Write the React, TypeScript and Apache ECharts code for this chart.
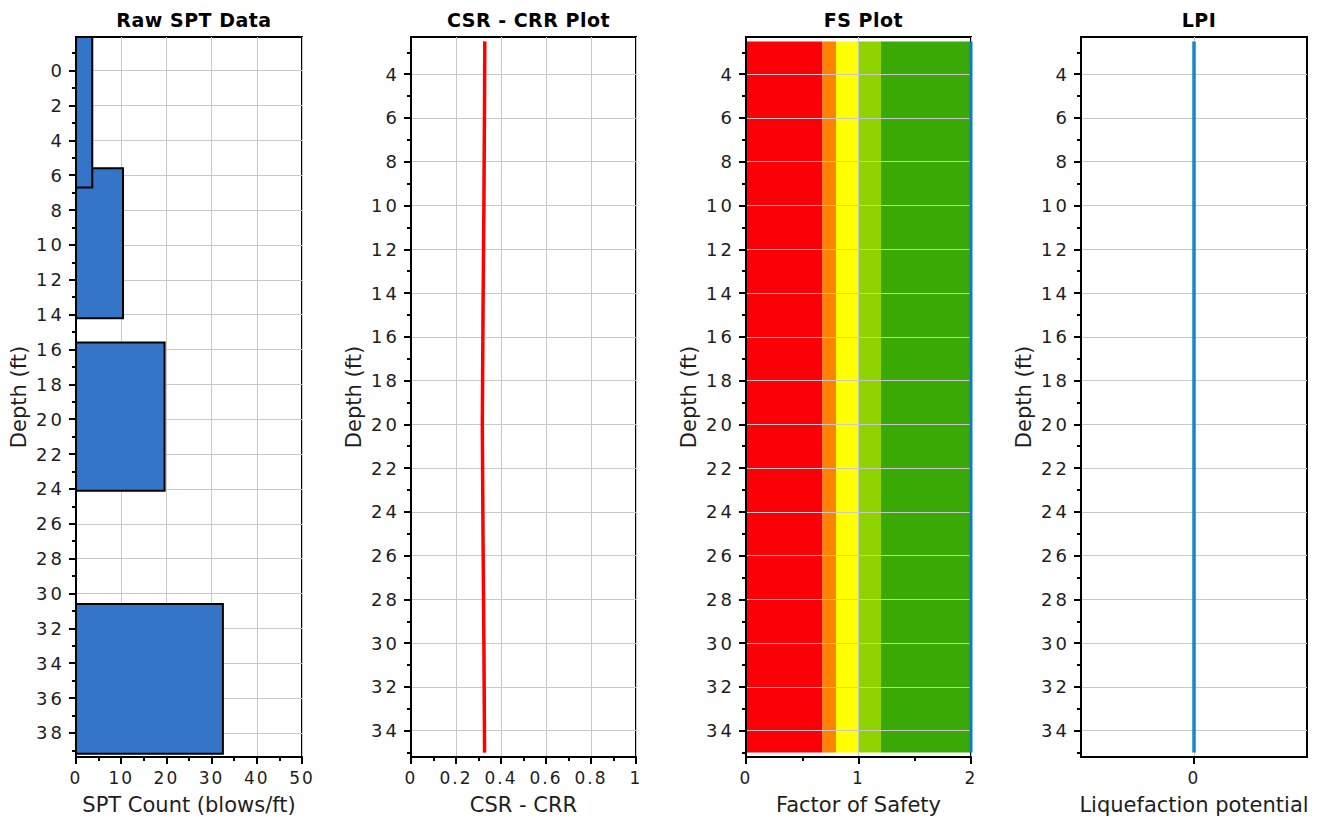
import React, { useEffect, useRef } from "react";
import * as echarts from "echarts";

const FONT = "DejaVu Sans";

const panelTitles = ["Raw SPT Data", "CSR - CRR Plot", "FS Plot", "LPI"];
const xAxisNames = ["SPT Count (blows/ft)", "CSR - CRR", "Factor of Safety", "Liquefaction potential"];
const yAxisName = "Depth (ft)";

// Raw SPT layers
const sptTopDepth = [-1.93, 5.6, 15.6, 30.6];
const sptBottomDepth = [6.7, 14.2, 24.1, 39.2];
const sptCount = [3.6, 10.4, 19.6, 32.5];

// Profiles vs depth
const depths = [2.5, 5, 10, 15, 20, 25, 30, 35];
const csrCrr = [0.328, 0.327, 0.324, 0.32, 0.317, 0.32, 0.324, 0.327];
const factorOfSafety = [2, 2, 2, 2, 2, 2, 2, 2];
const lpi = [0, 0, 0, 0, 0, 0, 0, 0];

// FS background bands
const fsBandFrom = [0, 0.68, 0.8, 1.0, 1.2];
const fsBandTo = [0.68, 0.8, 1.0, 1.2, 2.0];
const fsBandColors = ["#fb0007", "#ff8200", "#ffff00", "#8fd400", "#3aa805"];
const fsBandTop = 2.5;
const fsBandBottom = 35;

// Tick labels
const depthTicksSpt = [0, 2, 4, 6, 8, 10, 12, 14, 16, 18, 20, 22, 24, 26, 28, 30, 32, 34, 36, 38];
const depthTicks = [4, 6, 8, 10, 12, 14, 16, 18, 20, 22, 24, 26, 28, 30, 32, 34];
const lpiTicks = [0];

const grids = [
  { left: 76, top: 37, width: 226, height: 720 },
  { left: 411, top: 37, width: 225, height: 720 },
  { left: 746, top: 37, width: 225, height: 720 },
  { left: 1081, top: 37, width: 226, height: 720 },
];

const tickColor = "#000";
const labelColor = "#1e1e1e";
const gridColor = "#c8c8c8";
const Y_TICK_FONT = 18;
const X_TICK_FONT = 17;

function makeY(i: number, min: number, max: number, ticks: number[]) {
  return {
    type: "value",
    gridIndex: i,
    inverse: true,
    min,
    max,
    minInterval: 2,
    maxInterval: 2,
    name: yAxisName,
    nameLocation: "middle",
    nameGap: 47,
    nameTextStyle: { fontSize: 21, color: labelColor, fontFamily: FONT },
    axisLine: { show: true, onZero: false, lineStyle: { color: tickColor, width: 2 } },
    axisTick: { show: true, length: 7, customValues: ticks, lineStyle: { color: tickColor, width: 2 } },
    minorTick: { show: true, splitNumber: 2, length: 4, lineStyle: { color: tickColor, width: 2 } },
    axisLabel: { fontSize: Y_TICK_FONT, color: labelColor, margin: 11, fontFamily: FONT, customValues: ticks },
    splitLine: { show: true, lineStyle: { color: gridColor, width: 1 } },
  };
}

function makeX(i: number, min: number, max: number, interval: number, extra: any = {}) {
  return {
    type: "value",
    gridIndex: i,
    min,
    max,
    interval,
    position: "bottom",
    name: xAxisNames[i],
    nameLocation: "middle",
    nameGap: 37,
    nameTextStyle: { fontSize: 21, color: labelColor, fontFamily: FONT },
    axisLine: { show: true, onZero: false, lineStyle: { color: tickColor, width: 2 } },
    axisTick: { show: true, length: 7, lineStyle: { color: tickColor, width: 2 }, ...(extra.axisTick || {}) },
    minorTick: { show: extra.noMinor ? false : true, splitNumber: 2, length: 4, lineStyle: { color: tickColor, width: 2 } },
    axisLabel: { fontSize: X_TICK_FONT, color: labelColor, margin: 12, fontFamily: FONT, ...(extra.axisLabel || {}) },
    splitLine: { show: true, lineStyle: { color: gridColor, width: 1 } },
  };
}

export default function App() {
  const ref = useRef<HTMLDivElement>(null);

  useEffect(() => {
    if (!ref.current) return;
    const chart = echarts.init(ref.current, null, { renderer: "svg" });

    const option: any = {
      animation: false,
      textStyle: { fontFamily: FONT },
      title: panelTitles.map((t, i) => ({
        text: t,
        left: grids[i].left + grids[i].width / 2,
        top: 5,
        textAlign: "center",
        textStyle: { fontSize: 19, fontWeight: "bold", color: "#000", fontFamily: FONT },
      })),
      grid: grids.map((g) => ({
        ...g,
        show: true,
        borderColor: "#000",
        borderWidth: 2,
        backgroundColor: "transparent",
        containLabel: false,
      })),
      xAxis: [
        makeX(0, 0, 50, 10),
        makeX(1, 0, 1, 0.2),
        makeX(2, 0, 2, 1),
        makeX(3, -1, 1, 1, {
          noMinor: true,
          axisTick: { customValues: lpiTicks },
          axisLabel: { customValues: lpiTicks },
        }),
      ],
      yAxis: [
        makeY(0, -1.93, 39.38, depthTicksSpt),
        makeY(1, 2.3, 35.2, depthTicks),
        makeY(2, 2.3, 35.2, depthTicks),
        makeY(3, 2.3, 35.2, depthTicks),
      ],
      series: [
        {
          type: "custom",
          name: "SPT",
          xAxisIndex: 0,
          yAxisIndex: 0,
          clip: true,
          encode: { x: [0, 1], y: [2, 3] },
          data: sptCount.map((c, i) => [0, c, sptTopDepth[i], sptBottomDepth[i]]),
          renderItem: (params: any, api: any) => {
            const p0 = api.coord([api.value(0), api.value(2)]);
            const p1 = api.coord([api.value(1), api.value(3)]);
            return {
              type: "rect",
              z2: 10 - params.dataIndex,
              shape: { x: p0[0], y: p0[1], width: p1[0] - p0[0], height: p1[1] - p0[1] },
              style: { fill: "#3575c8", stroke: "#000", lineWidth: 2 },
            };
          },
        },
        {
          type: "line",
          name: "CSR - CRR",
          xAxisIndex: 1,
          yAxisIndex: 1,
          showSymbol: false,
          data: depths.map((d, i) => [csrCrr[i], d]),
          lineStyle: { color: "#ff0000", width: 3.5 },
          itemStyle: { color: "#ff0000" },
        },
        {
          type: "custom",
          name: "FS zones",
          xAxisIndex: 2,
          yAxisIndex: 2,
          z: -1,
          clip: true,
          encode: { x: [0, 1], y: [2, 3] },
          data: fsBandFrom.map((f, i) => [f, fsBandTo[i], fsBandTop, fsBandBottom, i]),
          renderItem: (params: any, api: any) => {
            const p0 = api.coord([api.value(0), api.value(2)]);
            const p1 = api.coord([api.value(1), api.value(3)]);
            return {
              type: "rect",
              shape: { x: p0[0], y: p0[1], width: p1[0] - p0[0], height: p1[1] - p0[1] },
              style: { fill: fsBandColors[api.value(4)] },
            };
          },
        },
        {
          type: "line",
          name: "FS",
          xAxisIndex: 2,
          yAxisIndex: 2,
          showSymbol: false,
          clip: false,
          data: depths.map((d, i) => [factorOfSafety[i], d]),
          lineStyle: { color: "#0a80c0", width: 3 },
          itemStyle: { color: "#0a80c0" },
        },
        {
          type: "line",
          name: "LPI",
          xAxisIndex: 3,
          yAxisIndex: 3,
          showSymbol: false,
          data: depths.map((d, i) => [lpi[i], d]),
          lineStyle: { color: "#1a86c8", width: 3.5 },
          itemStyle: { color: "#1a86c8" },
        },
      ],
    };

    chart.setOption(option);
    return () => chart.dispose();
  }, []);

  const css = `
    .spt-chart text[style*="${Y_TICK_FONT}px"] { letter-spacing: 3px; }
    .spt-chart text[style*="${X_TICK_FONT}px"] { letter-spacing: 2px; }
    .spt-chart text[style*="bold"] { letter-spacing: 0.5px; }
  `;

  return (
    <>
      <style>{css}</style>
      <div
        ref={ref}
        className="spt-chart"
        style={{ position: "absolute", left: 0, top: 0, width: 1320, height: 821, background: "#fff" }}
      />
    </>
  );
}
